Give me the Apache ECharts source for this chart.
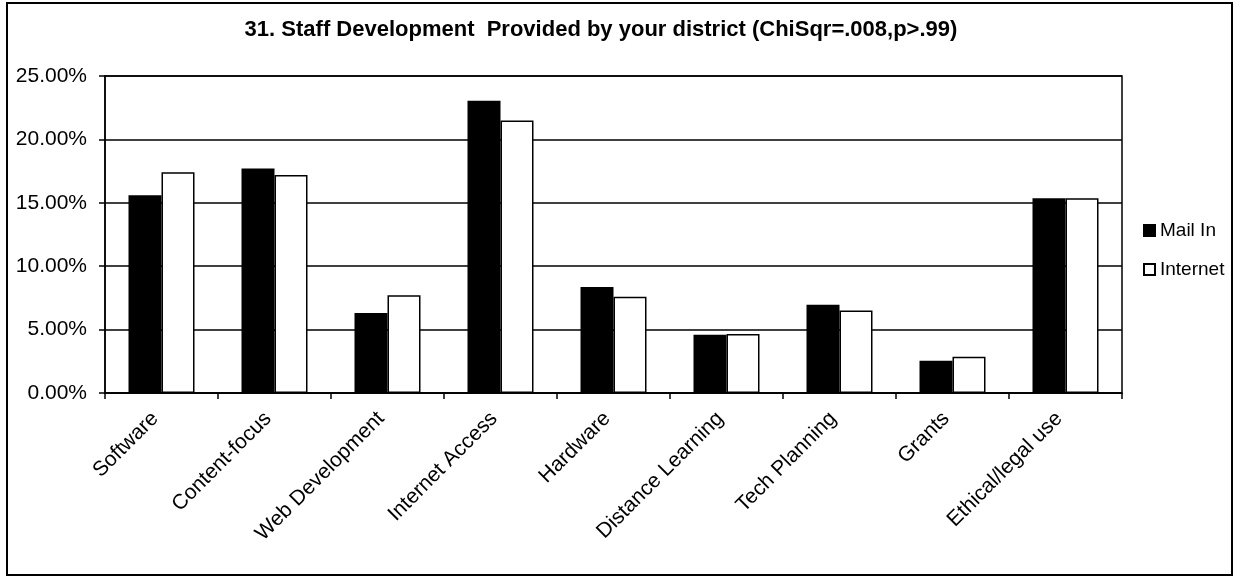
<!DOCTYPE html>
<html>
<head>
<meta charset="utf-8">
<script src="https://cdn.jsdelivr.net/npm/echarts@6/dist/echarts.min.js"></script>
<style>
  html, body { margin: 0; padding: 0; background: #fff; }
  #chart-box { width: 1240px; height: 578px; }
</style>
</head>
<body>
<div id="chart-box"></div>
<script>
const categories = ['Software', 'Content-focus', 'Web Development', 'Internet Access', 'Hardware',
    'Distance Learning', 'Tech Planning', 'Grants', 'Ethical/legal use']
const mailIn = [15.6, 17.7, 6.3, 23.05, 8.35, 4.6, 6.95, 2.55, 15.35]
const internet = [17.4, 17.2, 7.7, 21.5, 7.6, 4.65, 6.5, 2.85, 15.35]
const yTicks = [0, 5, 10, 15, 20, 25]

const font = '"Liberation Sans", Arial, sans-serif'

let chart = echarts.init(document.getElementById('chart-box'))
chart.setOption({
    animation: false,
    title: {
        text: '31. Staff Development  Provided by your district (ChiSqr=.008,p>.99)',
        left: 601,
        top: 19,
        textAlign: 'center',
        padding: 0,
        textStyle: {fontFamily: font, fontSize: 22, fontWeight: 'bold', color: '#000'}
    },
    legend: {
        orient: 'vertical',
        left: 1143,
        top: 221,
        padding: 0,
        itemWidth: 11,
        itemHeight: 11,
        itemGap: 20,
        icon: 'rect',
        textStyle: {fontFamily: font, fontSize: 19, color: '#000'},
        data: ['Mail In', 'Internet']
    },
    grid: {
        left: 105, right: 118, top: 76, bottom: 185,
        show: true, borderColor: '#000', borderWidth: 1.5
    },
    xAxis: {
        type: 'category',
        data: categories,
        axisLine: {lineStyle: {color: '#000', width: 1.5}},
        axisTick: {show: true, length: 6, lineStyle: {color: '#000', width: 1.5}},
        axisLabel: {
            rotate: 45, margin: 16, padding: [0, 9, 0, 0],
            fontFamily: font, fontSize: 21, color: '#000'
        }
    },
    yAxis: {
        type: 'value',
        min: yTicks[0],
        max: yTicks[yTicks.length - 1],
        interval: 5,
        axisLine: {show: true, lineStyle: {color: '#000', width: 1.5}},
        axisTick: {show: true, length: 6, lineStyle: {color: '#000', width: 1.5}},
        splitLine: {lineStyle: {color: '#000', width: 1.5}},
        axisLabel: {
            margin: 18, fontFamily: font, fontSize: 21, color: '#000',
            formatter: v => v.toFixed(2) + '%'
        }
    },
    series: [{
        name: 'Mail In',
        type: 'bar',
        data: mailIn,
        barWidth: 33,
        barGap: '0%',
        itemStyle: {color: '#000', borderColor: '#000', borderWidth: 1.5}
    }, {
        name: 'Internet',
        type: 'bar',
        data: internet,
        barWidth: 33,
        itemStyle: {color: '#fff', borderColor: '#000', borderWidth: 1.5}
    }],
    graphic: [{
        type: 'rect',
        shape: {x: 7, y: 3, width: 1225, height: 572},
        style: {fill: 'none', stroke: '#000', lineWidth: 2},
        silent: true,
        z: -1
    }]
})
</script>
</body>
</html>
